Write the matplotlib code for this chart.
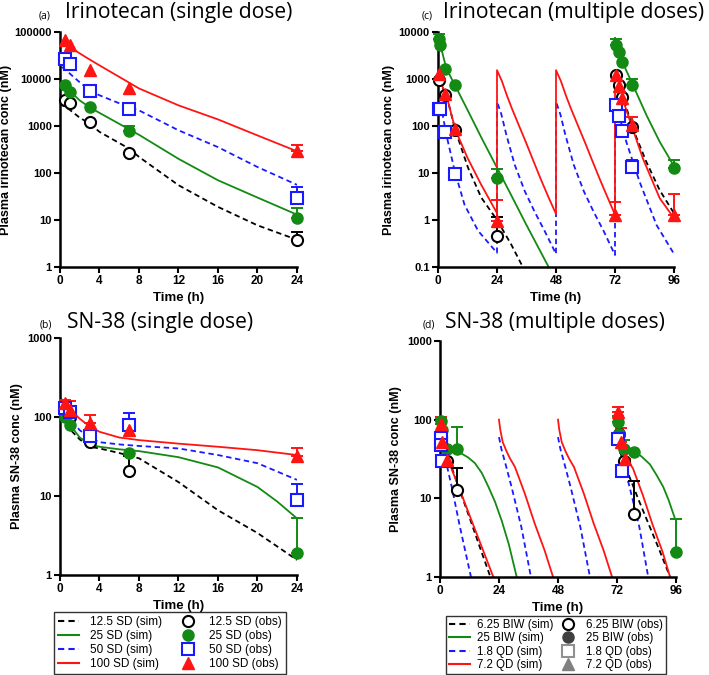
import numpy as np
import matplotlib
matplotlib.use('Agg')
import matplotlib.pyplot as plt
from matplotlib.lines import Line2D
from matplotlib.ticker import NullLocator

plt.rcParams['font.family'] = ['Liberation Sans', 'DejaVu Sans']

# ---------------- (a) irinotecan, single dose ----------------
a_sim_t_125 = [0, 1, 2, 3, 4, 7, 8, 12, 16, 20, 24]
a_sim_125 = [3000, 2200, 1500, 1130, 750, 330, 220, 55, 19, 7.7, 3.8]
a_sim_t_25 = [0.5, 1, 2, 3, 4, 7, 8, 12, 16, 20, 24]
a_sim_25 = [7500, 5500, 3500, 2500, 1900, 850, 650, 200, 70, 30, 13]
a_sim_t_50 = [0.2, 1, 2, 3, 4, 7, 8, 12, 16, 20, 24]
a_sim_50 = [18000, 13000, 8500, 5700, 4500, 2500, 2150, 810, 355, 134, 56]
a_sim_t_100 = [0.5, 1, 2, 3, 4, 8, 12, 16, 20, 24]
a_sim_100 = [60000, 48000, 35000, 26000, 19500, 6300, 2750, 1380, 630, 290]

a_obs_t = [0.5, 1, 3, 7, 24]
a_obs_125 = [3500, 3150, 1200, 270, 3.7]
a_top_125 = [np.nan, np.nan, np.nan, np.nan, 5.5]
a_obs_25 = [7300, 5300, 2500, 800, 11]
a_top_25 = [np.nan, np.nan, np.nan, 1000, 18]
a_obs_50 = [27000, 21000, 5500, 2300, 30]
a_top_50 = [np.nan, np.nan, np.nan, np.nan, 50]
a_obs_100 = [66000, 52000, 15500, 6500, 290]
a_top_100 = [np.nan, np.nan, np.nan, np.nan, 390]

# ---------------- (b) SN-38, single dose ----------------
b_sim_t_125 = [0, 1, 2, 3, 4, 6, 8, 12, 16, 20, 24]
b_sim_125 = [100, 70, 52, 42, 40, 35, 30, 15, 6.6, 3.4, 1.55]
b_sim_t_25 = [0, 0.5, 1, 2, 3, 4, 6, 8, 12, 16, 20, 22, 24]
b_sim_25 = [100, 90, 80, 55, 45, 42, 39, 37, 31, 23, 13, 8.5, 5.2]
b_sim_t_50 = [0, 0.5, 1, 2, 3, 4, 6, 8, 12, 16, 20, 24]
b_sim_50 = [130, 110, 95, 68, 55, 48, 45, 43, 40, 33, 26, 16]
b_sim_t_100 = [0, 0.5, 1, 2, 3, 4, 6, 8, 12, 16, 20, 24]
b_sim_100 = [175, 150, 125, 95, 76, 65, 55, 51, 46, 42, 38, 33]

b_obs_t_125 = [0.5, 1, 3, 7]
b_obs_125 = [120, 100, 48, 21]
b_top_125 = [np.nan, np.nan, np.nan, 32]
b_obs_t = [0.5, 1, 3, 7, 24]
b_obs_25 = [100, 80, 60, 35, 1.9]
b_top_25 = [np.nan, np.nan, np.nan, np.nan, 5.2]
b_obs_50 = [130, 115, 58, 80, 8.9]
b_top_50 = [np.nan, np.nan, np.nan, 112, 14]
b_obs_100 = [150, 123, 85, 69, 32]
b_top_100 = [165, 160, 105, np.nan, 40]

# ---------------- (c) irinotecan, multiple doses ----------------
nan = np.nan
c_sim_t_625 = [0, 1, 3.4, 7, 12.2, 17.6, 24, 29.8, 34.5, nan,
               72, 75.3, 79.3, 84.8, 90.2, 95.6, 96]
c_sim_625 = [950, 800, 460, 83, 13, 3, 1.0, 0.3, 0.1, nan,
             1200, 415, 87, 17, 4.3, 1.5, 1.35]
c_sim_t_25 = [0, 0.5, 1, 3.4, 7, 12, 18, 24, 30, 36, 45, nan,
              72, 73.2, 79.3, 84.8, 90.2, 96]
c_sim_25 = [9100, 7200, 5200, 1670, 720, 220, 52, 13, 3.2, 0.78, 0.1, nan,
            7500, 3700, 745, 170, 46, 14]
c_sim_t_18 = [0, 0.5, 1.4, 3.4, 6.8, 10.8, 16.3, 24,
              24, 25.8, 27.8, 31.2, 35.3, 39.3, 43.4, 48,
              48, 49.8, 51.8, 55.2, 59.3, 63.3, 67.4, 72,
              72, 73.8, 76.6, 82, 88.9, 96]
c_sim_18 = [280, 270, 240, 65, 11, 2.1, 0.59, 0.2,
            330, 175, 65, 15, 4.1, 1.5, 0.58, 0.19,
            330, 175, 65, 15, 4.1, 1.5, 0.58, 0.18,
            300, 160, 46, 6.5, 0.78, 0.19]
c_sim_t_72 = [0, 2, 3.4, 7, 12, 17.6, 24,
              24, 26, 28, 30, 33, 36, 39, 42, 45, 48,
              48, 50, 52, 54, 57, 60, 63, 66, 69, 72,
              72, 73.2, 78.7, 83.4, 90.2, 95.6, 96]
c_sim_72 = [1400, 650, 460, 85, 21, 5.6, 1.4,
            1540, 900, 450, 240, 100, 42, 17, 7, 3, 1.35,
            1540, 900, 450, 240, 100, 42, 17, 7, 3, 1.3,
            1400, 750, 103, 20, 2.9, 1.17, 1.1]

c_obs_t_625 = [0.5, 3, 7, 24, 72.5, 73.5, 75, 79]
c_obs_625 = [950, 450, 82, 0.45, 1200, 745, 415, 95]
c_top_625 = [nan, nan, nan, 1.15, nan, nan, nan, nan]
c_obs_t_25 = [0.5, 1, 3, 7, 24, 72.5, 73.5, 75, 79, 96]
c_obs_25 = [7200, 5200, 1670, 740, 7.8, 5200, 3750, 2300, 745, 13]
c_top_25 = [9000, nan, nan, nan, 12.4, 7000, nan, nan, 1000, 18.6]
c_obs_t_18 = [0.5, 1, 3, 7, 72.5, 73.5, 75, 79]
c_obs_18 = [230, 230, 76, 9.3, 275, 163, 78, 13.5]
c_top_18 = [nan, nan, nan, 13, nan, nan, nan, 18.6]
c_obs_t_72 = [0.5, 3, 7, 24, 72, 72.5, 73.5, 75, 79, 96]
c_obs_72 = [1300, 490, 87, 0.95, 1.25, 1200, 700, 400, 103, 1.25]
c_top_72 = [nan, nan, nan, 2.6, 2.45, nan, nan, nan, 153, 3.5]

# ---------------- (d) SN-38, multiple doses ----------------
d_sim_t_625 = [0, 1, 2.5, 4.7, 8, 12, 16, 20.5, nan,
               72, 73, 73.9, 77, 81, 85, 89, 93.6]
d_sim_625 = [65, 42, 32, 25, 12.8, 5.7, 2.5, 1.0, nan,
             70, 45, 32, 19, 9.2, 4.6, 2.3, 1.0]
d_sim_t_25 = [0, 1, 2, 3.4, 6, 8.8, 11.5, 14.2, 17, 19.7, 22.4, 25.1, 28, 31.2, nan,
              72, 73, 74.6, 79.3, 82, 85.4, 88, 90.8, 93, 95.6, 96]
d_sim_25 = [100, 65, 48, 43, 40, 37, 33, 28, 21, 14, 9, 5.2, 2.6, 1.0, nan,
            100, 65, 45, 39, 34, 27, 20, 14, 9.5, 5.5, 5.3]
d_sim_t_18 = [0, 1, 2.7, 5, 8, 12.6, nan,
              24, 25, 26.3, 29.1, 33.1, 37, nan,
              48, 49, 50.3, 53.1, 57.1, 61, nan,
              72, 73, 74.3, 77.1, 81.1, 84.7]
d_sim_18 = [55, 40, 27, 13, 4.5, 1.0, nan,
            60, 42, 30, 14, 4.3, 1.0, nan,
            60, 42, 30, 14, 4.3, 1.0, nan,
            60, 42, 30, 14, 4.3, 1.0]
d_sim_t_72 = [0, 1, 2, 3.4, 8, 12, 16, 21.7, nan,
              24, 24.5, 25.5, 27, 28.5, 30.5, 34.5, 38.5, 42.5, 46, nan,
              48, 48.5, 49.5, 51, 52.5, 54.5, 58.5, 62.5, 66.5, 70, nan,
              72, 72.5, 73.5, 75.3, 78.5, 82.5, 86.5, 90.5, 93.6]
d_sim_72 = [100, 55, 40, 30, 13, 6.1, 2.9, 1.0, nan,
            100, 75, 52, 40, 32, 25, 11.5, 4.8, 2.2, 1.0, nan,
            100, 75, 52, 40, 32, 25, 11.5, 4.8, 2.2, 1.0, nan,
            100, 75, 52, 34, 24, 11, 4.6, 2.1, 1.0]

d_obs_t_625 = [0.5, 3, 7, 73, 75, 79]
d_obs_625 = [60, 30, 12.6, 66, 30, 6.4]
d_top_625 = [nan, nan, 24, nan, nan, 16.6]
d_obs_t_25 = [0.5, 1, 3, 7, 72.5, 73, 75, 79, 96]
d_obs_25 = [95, 73, 43, 43, 94, 65, 43, 39, 2.1]
d_top_25 = [105, nan, nan, 81, 110, nan, 55, nan, 5.5]
d_obs_t_18 = [0.25, 0.5, 1, 72.5, 74]
d_obs_18 = [58, 47, 30, 57, 22]
d_top_18 = [nan, nan, nan, nan, nan]
d_obs_t_72 = [0.5, 1, 3, 72.5, 73.5, 75.3]
d_obs_72 = [89, 52, 31, 125, 52, 32]
d_top_72 = [107, nan, nan, 145, 78, 38]

left_sim_labels = ['12.5 SD (sim)', '25 SD (sim)', '50 SD (sim)', '100 SD (sim)']
left_obs_labels = ['12.5 SD (obs)', '25 SD (obs)', '50 SD (obs)', '100 SD (obs)']
right_sim_labels = ['6.25 BIW (sim)', '25 BIW (sim)', '1.8 QD (sim)', '7.2 QD (sim)']
right_obs_labels = ['6.25 BIW (obs)', '25 BIW (obs)', '1.8 QD (obs)', '7.2 QD (obs)']

GREEN = '#138a13'
BLUE = '#1a1aff'
RED = '#ff1414'
DASH = (0, (3, 2))
line_style = [dict(color='black', ls=DASH), dict(color=GREEN, ls='-'),
              dict(color=BLUE, ls=DASH), dict(color=RED, ls='-')]
mark_style = [dict(marker='o', mfc='white', mec='black', ms=8, mew=1.5, color='black'),
              dict(marker='o', mfc=GREEN, mec=GREEN, ms=8, mew=1, color=GREEN),
              dict(marker='s', mfc='white', mec=BLUE, ms=8, mew=1.5, color=BLUE),
              dict(marker='^', mfc=RED, mec=RED, ms=8, mew=1, color=RED)]


def sim(ax, t, y, k):
    ax.plot(t, y, lw=1.3, zorder=2, **line_style[k])


def obs(ax, t, y, top, k):
    t = np.array(t, float); y = np.array(y, float); top = np.array(top, float)
    st = mark_style[k]
    sel = ~np.isnan(top)
    if sel.any():
        ax.errorbar(t[sel], y[sel], yerr=[np.zeros(sel.sum()), top[sel] - y[sel]],
                    fmt='none', ecolor=st['color'], elinewidth=1.4, capsize=4,
                    capthick=1.4, zorder=3, clip_on=False)
    ax.plot(t, y, ls='none', marker=st['marker'], mfc=st['mfc'], mec=st['mec'],
            ms=st['ms'], mew=st['mew'], zorder=4, clip_on=False)


def style(ax, xt, yt, ylab, xlabx, ylabx):
    ax.set_yscale('log')
    ax.set_xlim(xt[0], xt[-1])
    ax.set_ylim(yt[0], yt[-1])
    ax.spines[['top', 'right']].set_visible(False)
    ax.spines[['left', 'bottom']].set_linewidth(1.8)
    ax.yaxis.set_minor_locator(NullLocator())
    ax.set_yticks(yt)
    ax.set_yticklabels(['%g' % v for v in yt], fontweight='bold', fontsize=8)
    ax.set_xticks(xt)
    ax.set_xticklabels([str(v) for v in xt], fontweight='bold', fontsize=8.5)
    ax.tick_params(direction='out', length=4, width=1.5, pad=2)
    ax.set_ylabel(ylab, fontweight='bold', fontsize=9)
    ax.yaxis.set_label_coords(ylabx, 0.5)
    ax.set_xlabel('Time (h)', fontweight='bold', fontsize=9.5)
    ax.xaxis.set_label_coords(0.5, xlabx)


fig = plt.figure(figsize=(7.09, 6.75), dpi=100)
W, H = 709, 675


def add_axes(x0, x1, y0, y1):
    return fig.add_axes([x0 / W, 1 - y1 / H, (x1 - x0) / W, (y1 - y0) / H])


axa = add_axes(60, 297, 32, 267)
axb = add_axes(60, 297, 338, 575)
axc = add_axes(438, 674, 32, 267)
axd = add_axes(440, 676, 341, 577)

for k, (t, y) in enumerate([(a_sim_t_125, a_sim_125), (a_sim_t_25, a_sim_25),
                            (a_sim_t_50, a_sim_50), (a_sim_t_100, a_sim_100)]):
    sim(axa, t, y, k)
obs(axa, a_obs_t, a_obs_125, a_top_125, 0)
obs(axa, a_obs_t, a_obs_25, a_top_25, 1)
obs(axa, a_obs_t, a_obs_50, a_top_50, 2)
obs(axa, a_obs_t, a_obs_100, a_top_100, 3)

for k, (t, y) in enumerate([(b_sim_t_125, b_sim_125), (b_sim_t_25, b_sim_25),
                            (b_sim_t_50, b_sim_50), (b_sim_t_100, b_sim_100)]):
    sim(axb, t, y, k)
obs(axb, b_obs_t_125, b_obs_125, b_top_125, 0)
obs(axb, b_obs_t, b_obs_25, b_top_25, 1)
obs(axb, b_obs_t, b_obs_50, b_top_50, 2)
obs(axb, b_obs_t, b_obs_100, b_top_100, 3)

for k, (t, y) in enumerate([(c_sim_t_625, c_sim_625), (c_sim_t_25, c_sim_25),
                            (c_sim_t_18, c_sim_18), (c_sim_t_72, c_sim_72)]):
    sim(axc, t, y, k)
obs(axc, c_obs_t_625, c_obs_625, c_top_625, 0)
obs(axc, c_obs_t_25, c_obs_25, c_top_25, 1)
obs(axc, c_obs_t_18, c_obs_18, c_top_18, 2)
obs(axc, c_obs_t_72, c_obs_72, c_top_72, 3)

for k, (t, y) in enumerate([(d_sim_t_625, d_sim_625), (d_sim_t_25, d_sim_25),
                            (d_sim_t_18, d_sim_18), (d_sim_t_72, d_sim_72)]):
    sim(axd, t, y, k)
obs(axd, d_obs_t_625, d_obs_625, d_top_625, 0)
obs(axd, d_obs_t_25, d_obs_25, d_top_25, 1)
obs(axd, d_obs_t_18, d_obs_18, d_top_18, 2)
obs(axd, d_obs_t_72, d_obs_72, d_top_72, 3)

style(axa, [0, 4, 8, 12, 16, 20, 24], [1, 10, 100, 1000, 10000, 100000],
      'Plasma irinotecan conc (nM)', -0.106, -0.2025)
style(axb, [0, 4, 8, 12, 16, 20, 24], [1, 10, 100, 1000],
      'Plasma SN-38 conc (nM)', -0.106, -0.156)
style(axc, [0, 24, 48, 72, 96], [0.1, 1, 10, 100, 1000, 10000],
      'Plasma irinotecan conc (nM)', -0.106, -0.182)
style(axd, [0, 24, 48, 72, 96], [1, 10, 100, 1000],
      'Plasma SN-38 conc (nM)', -0.106, -0.161)

# panel titles
TF = ['Open Sans', 'DejaVu Sans']
for lx, tx, yb, tag, title in [(39, 65, 18, '(a)', 'Irinotecan (single dose)'),
                               (422, 443, 18, '(c)', 'Irinotecan (multiple doses)'),
                               (40, 67, 328, '(b)', 'SN-38 (single dose)'),
                               (423, 445, 328, '(d)', 'SN-38 (multiple doses)')]:
    fig.text(lx / W, 1 - yb / H, tag, fontsize=7.5, family=TF, va='baseline')
    fig.text(tx / W, 1 - yb / H, title, fontsize=15.2, family=TF, va='baseline')

# legends
left_handles = [Line2D([], [], lw=1.5, **s) for s in line_style] + \
    [Line2D([], [], ls='none', marker=s['marker'], mfc=s['mfc'], mec=s['mec'],
            ms=8, mew=s['mew']) for s in mark_style]
fig.legend(left_handles, left_sim_labels + left_obs_labels, ncol=2, loc='center',
           bbox_to_anchor=(170 / W, 1 - 643 / H), fontsize=8.5, frameon=True,
           fancybox=False, edgecolor='black', handlelength=1.8,
           columnspacing=1.3, labelspacing=0.17, borderpad=0.3, handletextpad=0.9)
fig.legends[-1].get_frame().set_linewidth(1.0)

gray_marks = [dict(marker='o', mfc='white', mec='black', mew=1.5),
              dict(marker='o', mfc='#404040', mec='#404040', mew=1),
              dict(marker='s', mfc='white', mec='#909090', mew=1.5),
              dict(marker='^', mfc='#808080', mec='#808080', mew=1)]
right_handles = [Line2D([], [], lw=1.5, **s) for s in line_style] + \
    [Line2D([], [], ls='none', ms=8, **s) for s in gray_marks]
fig.legend(right_handles, right_sim_labels + right_obs_labels, ncol=2, loc='center',
           bbox_to_anchor=(556 / W, 1 - 645 / H), fontsize=8.3, frameon=True,
           fancybox=False, edgecolor='black', handlelength=1.8,
           columnspacing=0.4, labelspacing=0.1, borderpad=0.3, handletextpad=0.6)
fig.legends[-1].get_frame().set_linewidth(1.0)

fig.savefig('out.png', dpi=100)
